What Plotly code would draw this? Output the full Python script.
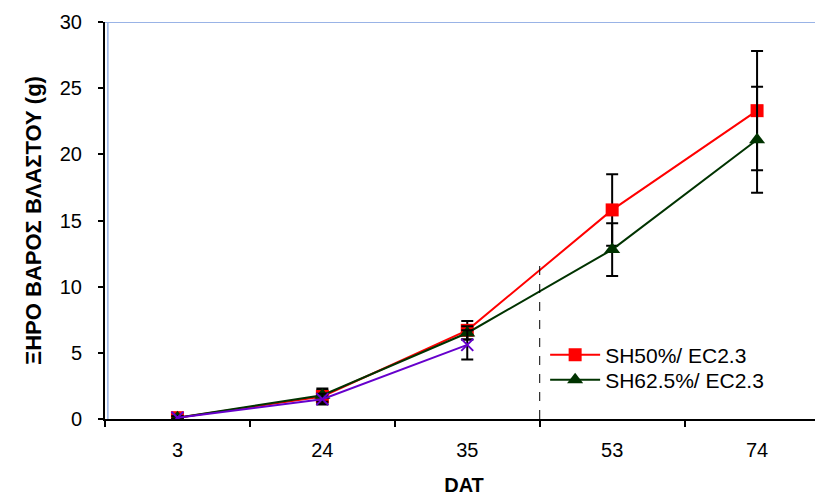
import plotly.graph_objects as go

categories = ["3", "24", "35", "53", "74"]
sh50 = [0.1, 1.7, 6.7, 15.8, 23.3]
sh50_err = [0.1, 0.5, 0.7, 2.7, 4.5]
sh625 = [0.1, 1.8, 6.5, 12.8, 21.1]
sh625_err = [0.1, 0.5, 0.5, 2.0, 4.0]
third = [0.1, 1.5, 5.6]
third_err = [0.1, 0.4, 1.1]
divider_pos = 2.5
divider_top = 11.7

FONT = "Liberation Sans, Arial, sans-serif"

fig = go.Figure()
fig.add_trace(go.Scatter(
    x=categories, y=sh50, name="SH50%/ EC2.3", mode="lines+markers", legend="legend",
    line=dict(color="#FF0000", width=2),
    marker=dict(symbol="square", size=13, color="#FF0000"),
    error_y=dict(type="data", array=sh50_err, color="black", thickness=2, width=6),
))
fig.add_trace(go.Scatter(
    x=categories, y=sh625, name="SH62.5%/ EC2.3", mode="lines+markers", legend="legend2",
    line=dict(color="#003300", width=2),
    marker=dict(symbol="triangle-up", size=14, color="#003300"),
    error_y=dict(type="data", array=sh625_err, color="black", thickness=2, width=6),
))
fig.add_trace(go.Scatter(
    x=categories[:3], y=third, name="", mode="lines+markers", showlegend=False,
    line=dict(color="#6600CC", width=2),
    marker=dict(symbol="x-thin", size=12, color="#6600CC", line=dict(color="#6600CC", width=2)),
    error_y=dict(type="data", array=third_err, color="black", thickness=2, width=6),
))

fig.add_shape(type="line", xref="x", yref="y", x0=divider_pos, x1=divider_pos, y0=0, y1=divider_top,
              line=dict(color="black", width=1, dash="dash"))
fig.add_shape(type="line", xref="paper", yref="y", x0=0, x1=1, y0=30, y1=30,
              line=dict(color="#99B3E6", width=2))
fig.add_shape(type="line", xref="paper", yref="paper", x0=0.004, x1=0.004, y0=0, y1=1,
              line=dict(color="#99B3E6", width=1.5))

leg_common = dict(xanchor="left", yanchor="middle", bgcolor="rgba(0,0,0,0)",
                  font=dict(size=21), itemwidth=50)

fig.update_layout(
    width=815, height=488,
    margin=dict(l=97, r=0, t=14, b=77, autoexpand=False),
    paper_bgcolor="white", plot_bgcolor="white",
    font=dict(family=FONT, size=20, color="black"),
    xaxis=dict(
        type="category", range=[-0.5, 4.455], tickson="boundaries",
        ticks="outside", ticklen=6, tickwidth=2, tickcolor="black",
        showline=True, linecolor="black", linewidth=2, showgrid=False, zeroline=False,
        title=dict(text="<b>DAT</b>", font=dict(size=20), standoff=20),
        tickfont=dict(size=20), ticklabelstandoff=12,
    ),
    yaxis=dict(
        range=[0, 30], dtick=5, ticks="outside", ticklen=5, tickwidth=2, tickcolor="black",
        showline=True, linecolor="black", linewidth=2, showgrid=False, zeroline=False,
        title=dict(text="<b>ΞΗΡΟ ΒΑΡΟΣ ΒΛΑΣΤΟΥ (g)</b>", font=dict(size=22), standoff=12),
        tickfont=dict(size=20), ticklabelstandoff=12,
    ),
    legend=dict(x=0.613, y=0.161, **leg_common),
    legend2=dict(x=0.613, y=0.098, **leg_common),
)

fig.write_html("out.html")
